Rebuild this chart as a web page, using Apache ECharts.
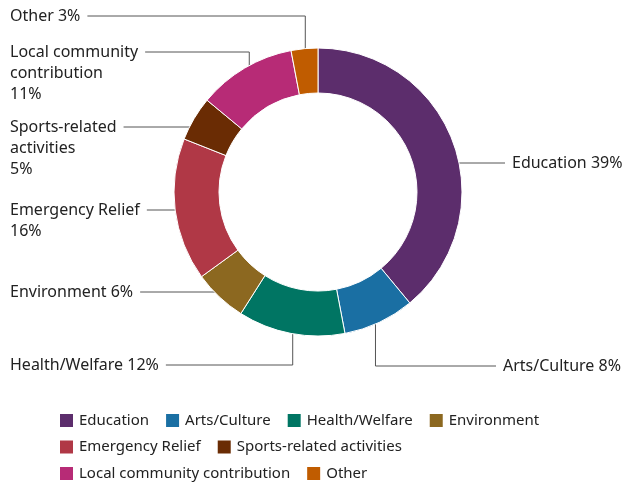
<!DOCTYPE html>
<html><head><meta charset="utf-8">
<script src="https://cdn.jsdelivr.net/npm/echarts@6/dist/echarts.min.js"></script>
<style>html,body{margin:0;padding:0;background:#fff}#c{width:624px;height:483px}</style>
</head><body><div id="c"></div>
<script>
const categories = ['Education','Arts/Culture','Health/Welfare','Environment','Emergency Relief','Sports-related activities','Local community contribution','Other'];
const values = [39, 8, 12, 6, 16, 5, 11, 3];
const labelNames = ['Education','Arts/Culture','Health/Welfare','Environment','Emergency Relief\n','Sports-related\nactivities\n','Local community\ncontribution\n','Other'];
const colors = ['#5c2d6c','#1a6fa3','#007563','#8c6820','#b03846','#6a2c04','#b72b76','#c05c00'];
const legendRows = [[0,1,2,3],[4,5],[6,7]];

const FONT = '"Noto Sans", sans-serif';
const CX = 318, CY = 192, R_LINE = 135, LH = 21, GAP = 7;
const labelPos = [
  {x:512, y:163, type:'h'},
  {x:503, y:366, type:'v'},
  {x:10,  y:365, type:'v'},
  {x:10,  y:292, type:'h'},
  {x:10,  y:210, type:'h'},
  {x:10,  y:127, type:'h'},
  {x:10,  y:52,  type:'v'},
  {x:10,  y:16,  type:'v'}
];
const total = values.reduce((a,b)=>a+b,0);
const cum = []; values.reduce((a,b,i)=>{cum[i]=a; return a+b;},0);

const chart = echarts.init(document.getElementById('c'), null, {renderer:'canvas'});
chart.setOption({
  animation: false,
  color: colors,
  legend: legendRows.map((row, r) => ({
    data: row.map(i => categories[i]),
    left: 53, top: 407 + r*26.5,
    orient: 'horizontal',
    icon: 'rect', itemWidth: 15, itemHeight: 15, itemGap: 15,
    textStyle: {fontSize: 15, color: '#222', fontFamily: FONT},
    selectedMode: false
  })),
  series: [{
    type: 'pie',
    center: [CX, CY],
    radius: [99, 144],
    startAngle: 90,
    clockwise: true,
    avoidLabelOverlap: false,
    itemStyle: {borderColor: '#fff', borderWidth: 1},
    label: {
      show: true, position: 'outside',
      fontSize: 16, lineHeight: LH, color: '#222', fontFamily: FONT,
      formatter: p => {
        const n = labelNames[p.dataIndex];
        return n + (n.endsWith('\n') ? '' : ' ') + p.value + '%';
      }
    },
    labelLine: {show: true, length: 5, length2: 5, lineStyle: {color: '#555', width: 1}},
    labelLayout: params => {
      const i = params.dataIndex, p = labelPos[i];
      const w = params.labelRect.width;
      const left = p.x < CX;
      const edge = left ? p.x + w + GAP : p.x - GAP;
      let pts;
      if (p.type === 'h') {
        const dy = p.y - CY;
        const dx = Math.sqrt(R_LINE*R_LINE - dy*dy) * (left ? -1 : 1);
        pts = [[CX + dx, p.y], [edge, p.y]];
      } else {
        const a = 2*Math.PI*(cum[i] + values[i]/2)/total;
        const ax = CX + R_LINE*Math.sin(a), ay = CY - R_LINE*Math.cos(a);
        pts = [[ax, ay], [ax, p.y], [edge, p.y]];
      }
      return {x: p.x, y: p.y - LH/2, align: 'left', verticalAlign: 'top', labelLinePoints: pts};
    },
    data: categories.map((c, i) => ({name: c, value: values[i]}))
  }]
});
</script></body></html>
